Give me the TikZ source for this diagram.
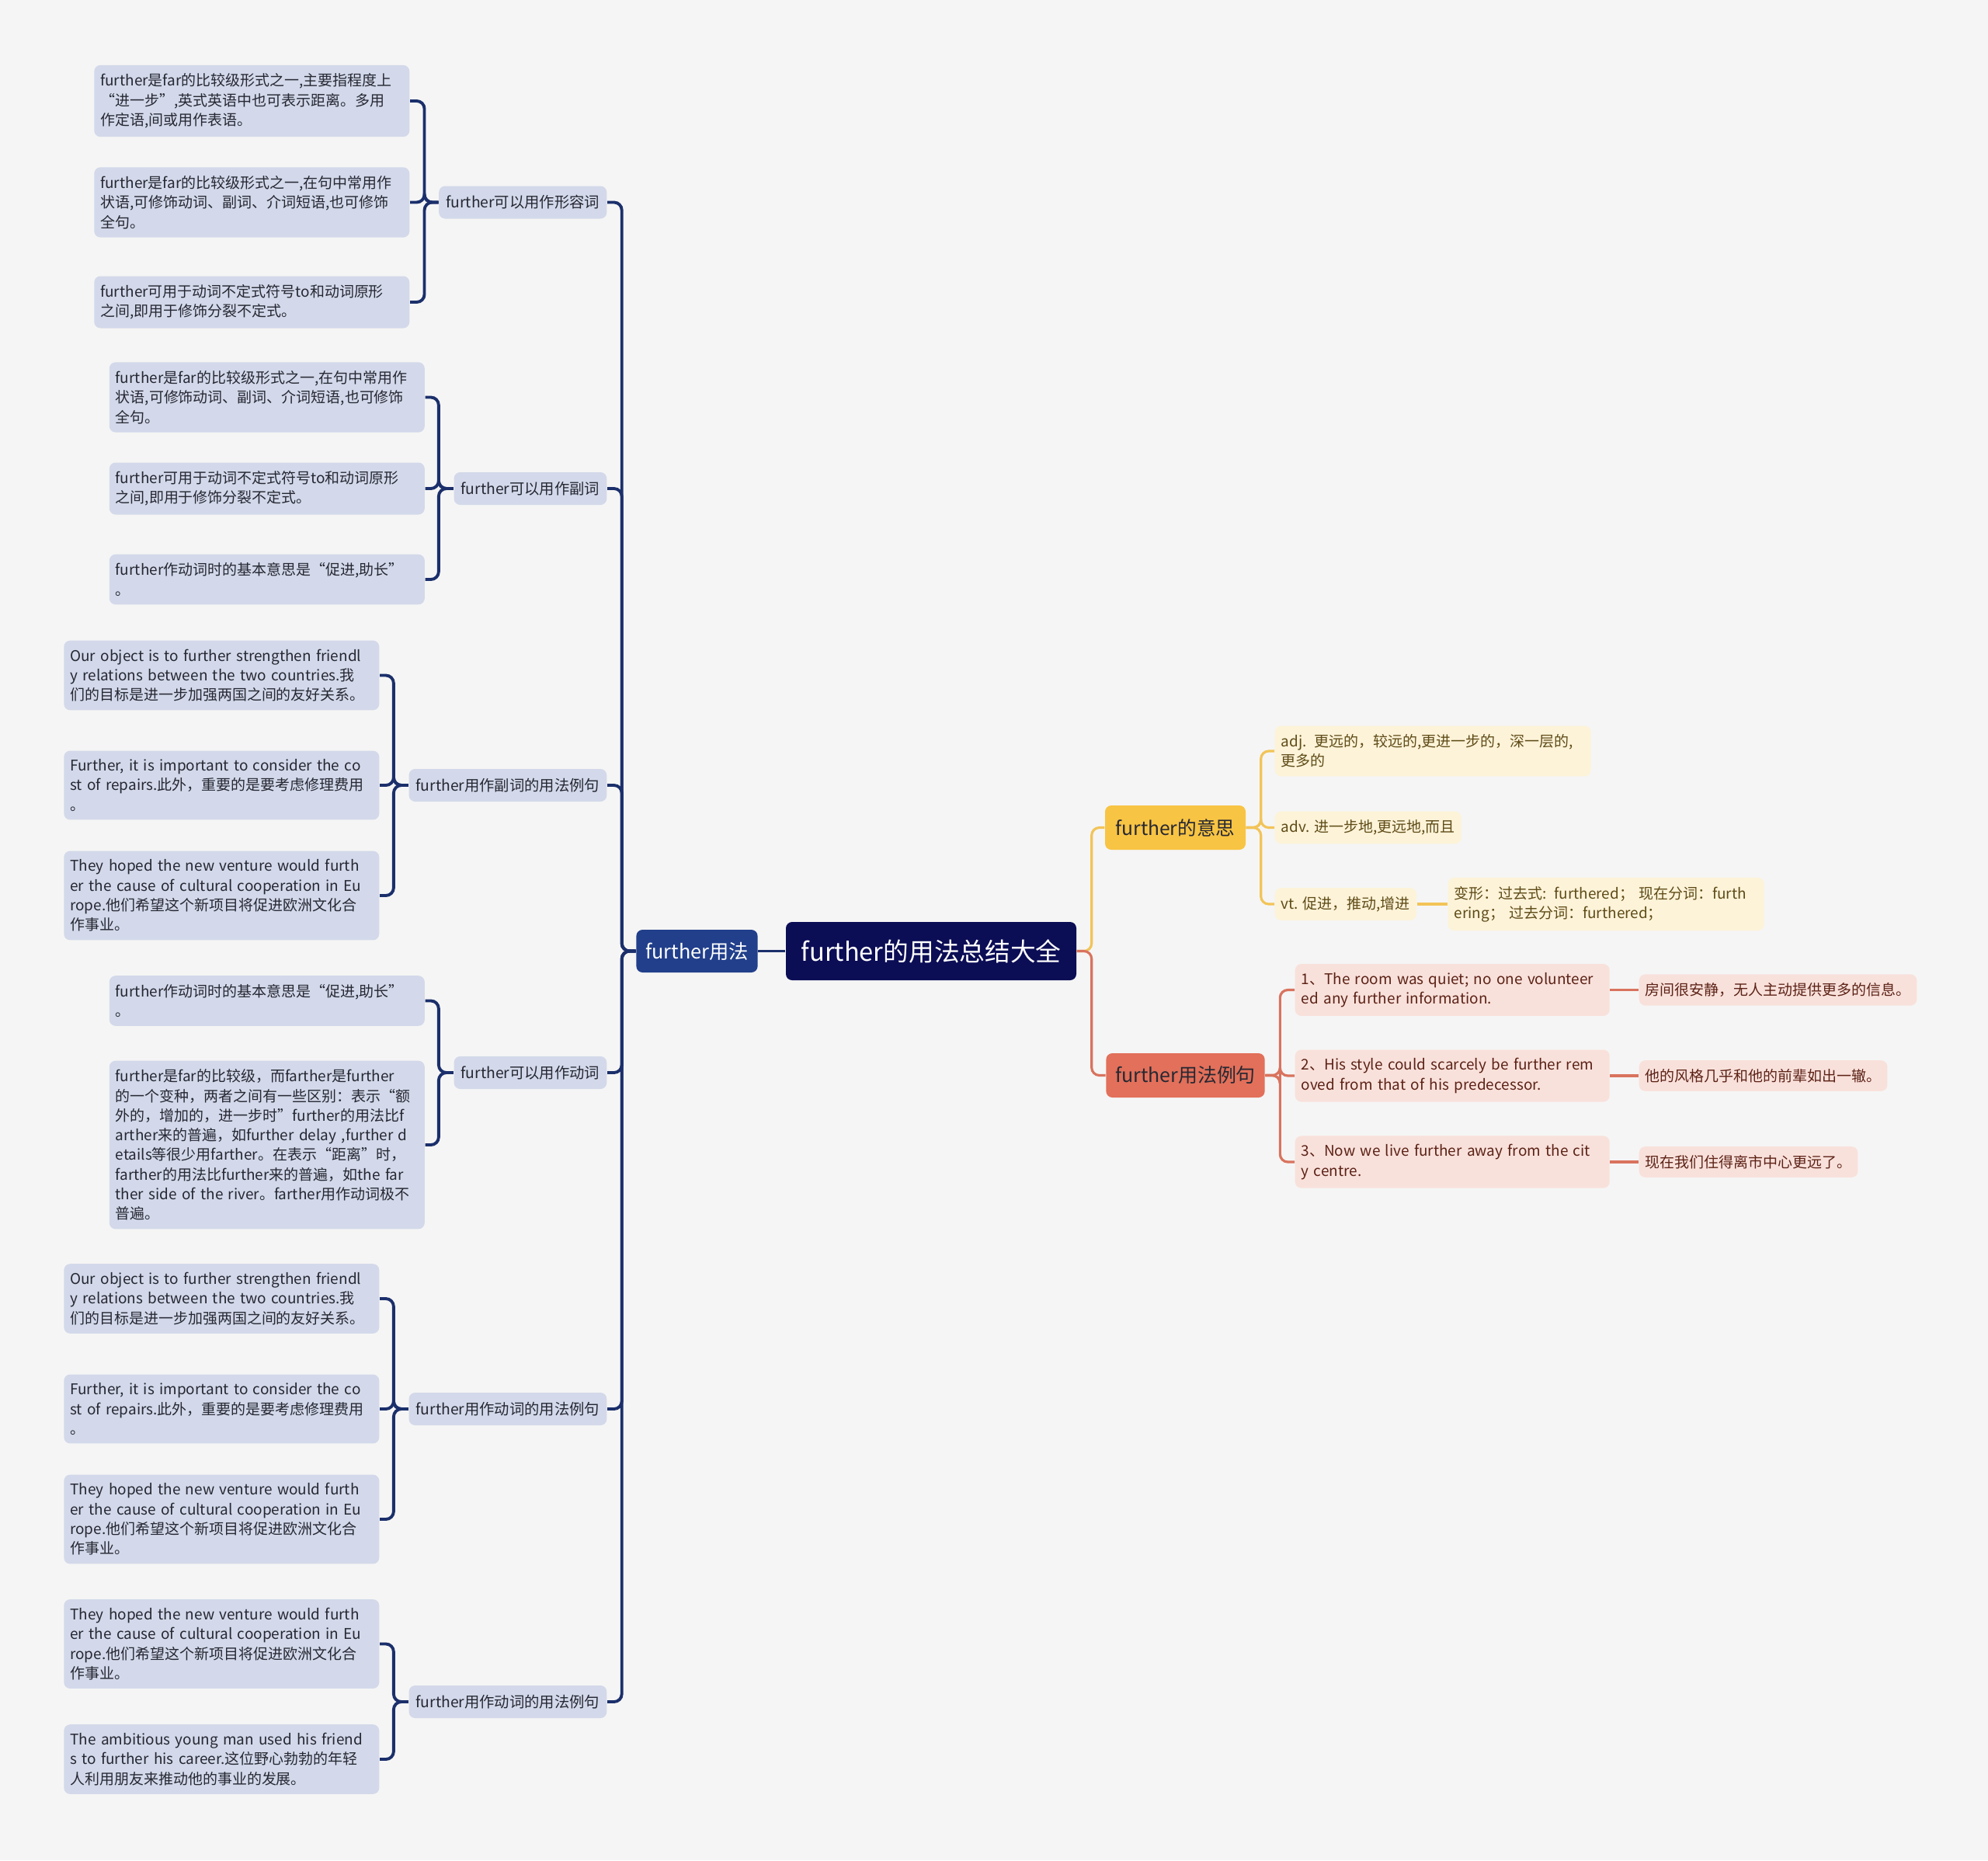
\documentclass[tikz,border=0pt]{standalone}
\usepackage{fontspec}
\setmainfont{Noto Sans CJK SC}
\usetikzlibrary{positioning, calc}
\definecolor{bgc}{HTML}{F5F5F5}
\definecolor{rootc}{HTML}{0B0D55}
\definecolor{yongfac}{HTML}{213F8B}
\definecolor{navyc}{HTML}{1B2F6B}
\definecolor{bluefill}{HTML}{D3D9EA}
\definecolor{bluetext}{HTML}{262833}
\definecolor{yellowc}{HTML}{F8C443}
\definecolor{yline}{HTML}{F2C458}
\definecolor{yfill}{HTML}{FDF3D8}
\definecolor{ytext}{HTML}{5E4B17}
\definecolor{redc}{HTML}{E2705A}
\definecolor{rline}{HTML}{D9735E}
\definecolor{rfill}{HTML}{F9E1DB}
\definecolor{rtext}{HTML}{5C2216}
\tikzstyle{box} = [rectangle, rounded corners=0.08cm, align=left, inner xsep=0.08cm, inner ysep=0.11cm, font=\fontsize{5.4}{7.2}\selectfont, execute at begin node={\hyphenpenalty=10000\relax}]
\tikzstyle{bleaf} = [box, fill=bluefill, text=bluetext, text width=3.9cm, anchor=east]
\tikzstyle{bmid} = [box, fill=bluefill, text=bluetext, anchor=east, inner xsep=0.09cm, minimum height=0.42cm, font=\fontsize{5.5}{7}\selectfont]
\tikzstyle{yleaf} = [box, fill=yfill, text=ytext, anchor=west]
\tikzstyle{rleaf} = [box, fill=rfill, text=rtext, anchor=west]
\tikzstyle{navyline} = [draw=navyc, line width=1.1pt, rounded corners=0.1cm]
\tikzstyle{yellowline} = [draw=yline, line width=0.9pt, rounded corners=0.1cm]
\tikzstyle{redline} = [draw=rline, line width=0.9pt, rounded corners=0.1cm]

\begin{document}
\begin{tikzpicture}
        % 背景
        \fill[bgc] (0,0) rectangle (25.6,-23.95);
        \useasboundingbox (0,0) rectangle (25.6,-23.95);

        % 中心主题
        \node[rectangle, rounded corners=0.08cm, fill=rootc, text=white, minimum width=3.74cm, minimum height=0.75cm, font=\fontsize{9.3}{11}\selectfont] (root) at (11.99,-12.245) {further的用法总结大全};
        \node[rectangle, rounded corners=0.08cm, fill=yongfac, text=white, minimum width=1.55cm, minimum height=0.55cm, font=\fontsize{7.2}{8}\selectfont] (yongfa) at (8.975,-12.245) {further用法};

        % 左侧分支
        \node[bmid] (xingrong) at (7.82,-2.605) {further可以用作形容词};
        \node[bmid] (fuci) at (7.82,-6.29) {further可以用作副词};
        \node[bmid] (fucili) at (7.82,-10.11) {further用作副词的用法例句};
        \node[bmid] (dongci) at (7.82,-13.81) {further可以用作动词};
        \node[bmid] (dongcili) at (7.82,-18.14) {further用作动词的用法例句};
        \node[bmid] (dongcili2) at (7.82,-21.91) {further用作动词的用法例句};

        \node[bleaf] (a1) at (5.28,-1.30) {further是far的比较级形式之一,主要指程度上\\“进一步”,英式英语中也可表示距离。多用\\作定语,间或用作表语。};
        \node[bleaf] (a2) at (5.28,-2.605) {further是far的比较级形式之一,在句中常用作\\状语,可修饰动词、副词、介词短语,也可修饰\\全句。};
        \node[bleaf] (a3) at (5.28,-3.89) {further可用于动词不定式符号to和动词原形\\之间,即用于修饰分裂不定式。};

        \node[bleaf] (b1) at (5.475,-5.115) {further是far的比较级形式之一,在句中常用作\\状语,可修饰动词、副词、介词短语,也可修饰\\全句。};
        \node[bleaf] (b2) at (5.475,-6.29) {further可用于动词不定式符号to和动词原形\\之间,即用于修饰分裂不定式。};
        \node[bleaf] (b3) at (5.475,-7.46) {further作动词时的基本意思是“促进,助长”\\。};

        \node[bleaf] (c1) at (4.89,-8.695) {Our object is to further strengthen friendl\\y relations between the two countries.我\\们的目标是进一步加强两国之间的友好关系。};
        \node[bleaf] (c2) at (4.89,-10.11) {Further, it is important to consider the co\\st of repairs.此外，重要的是要考虑修理费用\\。};
        \node[bleaf] (c3) at (4.89,-11.53) {They hoped the new venture would furth\\er the cause of cultural cooperation in Eu\\rope.他们希望这个新项目将促进欧洲文化合\\作事业。};

        \node[bleaf] (d1) at (5.475,-12.885) {further作动词时的基本意思是“促进,助长”\\。};
        \node[bleaf] (d2) at (5.475,-14.74) {further是far的比较级，而farther是further\\的一个变种，两者之间有一些区别：表示“额\\外的，增加的，进一步时”further的用法比f\\arther来的普遍，如further delay ,further d\\etails等很少用farther。在表示“距离”时，\\farther的用法比further来的普遍，如the far\\ther side of the river。farther用作动词极不\\普遍。};

        \node[bleaf] (e1) at (4.89,-16.72) {Our object is to further strengthen friendl\\y relations between the two countries.我\\们的目标是进一步加强两国之间的友好关系。};
        \node[bleaf] (e2) at (4.89,-18.14) {Further, it is important to consider the co\\st of repairs.此外，重要的是要考虑修理费用\\。};
        \node[bleaf] (e3) at (4.89,-19.56) {They hoped the new venture would furth\\er the cause of cultural cooperation in Eu\\rope.他们希望这个新项目将促进欧洲文化合\\作事业。};

        \node[bleaf] (f1) at (4.89,-21.165) {They hoped the new venture would furth\\er the cause of cultural cooperation in Eu\\rope.他们希望这个新项目将促进欧洲文化合\\作事业。};
        \node[bleaf] (f2) at (4.89,-22.65) {The ambitious young man used his friend\\s to further his career.这位野心勃勃的年轻\\人利用朋友来推动他的事业的发展。};

        % 右侧分支
        \node[rectangle, rounded corners=0.08cm, fill=yellowc, text=bluetext, minimum width=1.81cm, minimum height=0.57cm, font=\fontsize{7}{8}\selectfont] (yisi) at (15.135,-10.655) {further的意思};
        \node[rectangle, rounded corners=0.08cm, fill=redc, text=bluetext, minimum width=2.03cm, minimum height=0.57cm, font=\fontsize{7.1}{8}\selectfont] (liju) at (15.265,-13.845) {further用法例句};

        \node[yleaf, text width=3.91cm] (adj) at (16.41,-9.67) {adj. 更远的，较远的,更进一步的，深一层的,\\更多的};
        \node[yleaf] (adv) at (16.41,-10.655) {adv. 进一步地,更远地,而且};
        \node[yleaf] (vt) at (16.41,-11.64) {vt. 促进，推动,增进};
        \node[yleaf, text width=3.91cm] (bianxing) at (18.64,-11.64) {变形：过去式: furthered；\ 现在分词：furth\\ering；\ 过去分词：furthered；};

        \node[rleaf, text width=3.89cm] (r1) at (16.67,-12.745) {1、The room was quiet; no one volunteer\\ed any further information.};
        \node[rleaf, text width=3.89cm] (r2) at (16.67,-13.85) {2、His style could scarcely be further rem\\oved from that of his predecessor.};
        \node[rleaf, text width=3.89cm] (r3) at (16.67,-14.96) {3、Now we live further away from the cit\\y centre.};
        \node[rleaf] (t1) at (21.10,-12.745) {房间很安静，无人主动提供更多的信息。};
        \node[rleaf] (t2) at (21.10,-13.85) {他的风格几乎和他的前辈如出一辙。};
        \node[rleaf] (t3) at (21.10,-14.96) {现在我们住得离市中心更远了。};

        % 连线
        \draw[navyline] (root.west) -- (yongfa.east);
        \foreach \n in {xingrong, fuci, fucili, dongci, dongcili, dongcili2}
            \draw[navyline] (yongfa.west) -- ++(-0.18,0) |- (\n.east);
        \foreach \n in {a1, a2, a3}
            \draw[navyline] (xingrong.west) -- ++(-0.18,0) |- (\n.east);
        \foreach \n in {b1, b2, b3}
            \draw[navyline] (fuci.west) -- ++(-0.19,0) |- (\n.east);
        \foreach \n in {c1, c2, c3}
            \draw[navyline] (fucili.west) -- ++(-0.19,0) |- (\n.east);
        \foreach \n in {d1, d2}
            \draw[navyline] (dongci.west) -- ++(-0.19,0) |- (\n.east);
        \foreach \n in {e1, e2, e3}
            \draw[navyline] (dongcili.west) -- ++(-0.19,0) |- (\n.east);
        \foreach \n in {f1, f2}
            \draw[navyline] (dongcili2.west) -- ++(-0.19,0) |- (\n.east);

        \draw[yellowline] (root.east) -- ++(0.19,0) |- (yisi.west);
        \draw[redline] (root.east) -- ++(0.19,0) |- (liju.west);
        \foreach \n in {adj, adv, vt}
            \draw[yellowline] (yisi.east) -- ++(0.19,0) |- (\n.west);
        \draw[yellowline] (vt.east) -- (bianxing.west);
        \foreach \n in {r1, r2, r3}
            \draw[redline] (liju.east) -- ++(0.19,0) |- (\n.west);
        \draw[redline] (r1.east) -- (t1.west);
        \draw[redline] (r2.east) -- (t2.west);
        \draw[redline] (r3.east) -- (t3.west);
    \end{tikzpicture}
\end{document}
